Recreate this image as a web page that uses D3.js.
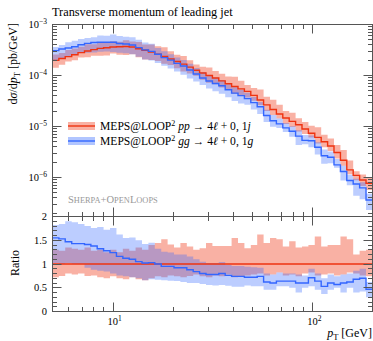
<!DOCTYPE html>
<html><head><meta charset="utf-8">
<script src="https://cdn.jsdelivr.net/npm/d3@7"></script>
<style>body{margin:0;background:#fff} svg{display:block} text{font-family:"Liberation Serif","DejaVu Serif",serif;fill:#000}</style>
</head><body>
<svg id="c" width="373" height="341"></svg>
<script>
// bin edges in pT [GeV]
const binEdges = [5,5.38,5.79,6.24,6.71,7.23,7.78,8.37,9.01,9.70,10.45,11.25,12.11,13.03,14.03,15.11,16.26,17.51,18.85,20.29,
 21.84,23.52,25.32,27.25,29.34,31.59,34.0,36.61,39.41,42.43,45.68,49.17,52.94,56.99,61.36,66.05,71.11,76.56,82.42,88.73,
 95.52,102.8,110.7,119.2,128.3,138.2,148.7,160.1,172.4,185.6,200];
// pp -> 4l + 0,1j  (dsigma/dpT, pb/GeV)
const redVals = [1.98e-4,2.16e-4,2.35e-4,2.56e-4,2.81e-4,3.03e-4,3.21e-4,3.40e-4,3.51e-4,3.63e-4,
 3.66e-4,3.70e-4,3.61e-4,3.35e-4,3.12e-4,2.88e-4,2.61e-4,2.36e-4,2.11e-4,1.88e-4,
 1.67e-4,1.46e-4,1.27e-4,1.12e-4,9.98e-5,8.91e-5,7.85e-5,6.90e-5,6.10e-5,5.46e-5,
 4.88e-5,4.08e-5,3.30e-5,2.66e-5,2.16e-5,1.76e-5,1.47e-5,1.26e-5,1.08e-5,8.93e-6,
 7.40e-6,6.11e-6,5.04e-6,4.15e-6,3.10e-6,2.18e-6,1.41e-6,1.10e-6,8.93e-7,7.71e-7];
// ratio to pp central: pp band
const redHi = [1.30,1.28,1.35,1.32,1.30,1.35,1.28,1.30,1.25,1.30,
 1.25,1.32,1.28,1.35,1.30,1.40,1.44,1.52,1.41,1.35,
 1.44,1.37,1.30,1.33,1.44,1.38,1.38,1.38,1.55,1.44,
 1.33,1.40,1.62,1.44,1.55,1.52,1.37,1.48,1.35,1.37,
 1.40,1.58,1.37,1.40,1.40,1.58,1.52,1.20,1.28,1.30];
const redLo = [0.72,0.75,0.80,0.78,0.80,0.75,0.76,0.72,0.70,0.74,
 0.70,0.68,0.72,0.68,0.66,0.70,0.74,0.72,0.76,0.74,
 0.72,0.75,0.78,0.74,0.72,0.76,0.74,0.78,0.72,0.74,
 0.76,0.78,0.80,0.76,0.78,0.82,0.76,0.78,0.74,0.80,
 0.82,0.76,0.78,0.80,0.76,0.78,0.82,0.80,0.76,0.74];
// gg -> 4l + 0,1g, ratio to pp central
const blueRatio = [1.55,1.53,1.47,1.43,1.43,1.41,1.38,1.32,1.28,1.24,
 1.16,1.12,1.10,1.05,1.02,1.03,1.00,0.95,0.95,0.92,
 0.92,0.88,0.84,0.80,0.78,0.78,0.80,0.76,0.74,0.74,
 0.72,0.72,0.74,0.62,0.60,0.64,0.64,0.64,0.60,0.60,
 0.71,0.64,0.53,0.60,0.57,0.60,0.62,0.68,0.70,0.47];
const blueHi = [1.82,1.84,1.90,1.88,1.84,1.80,1.76,1.78,1.72,1.76,
 1.62,1.55,1.56,1.50,1.42,1.45,1.32,1.26,1.24,1.20,
 1.20,1.16,1.10,1.05,1.02,1.02,1.04,0.98,0.96,0.96,
 0.94,0.93,0.92,0.80,0.78,0.82,0.80,0.80,0.78,0.76,
 0.90,0.80,0.70,0.78,0.74,0.78,0.80,0.86,0.90,0.62];
const blueLo = [1.02,1.00,1.02,1.00,1.00,0.92,0.88,0.86,0.84,0.80,
 0.76,0.74,0.72,0.70,0.66,0.68,0.67,0.66,0.65,0.64,
 0.62,0.60,0.60,0.58,0.56,0.55,0.56,0.54,0.52,0.52,
 0.55,0.53,0.53,0.46,0.46,0.53,0.53,0.50,0.40,0.50,
 0.53,0.46,0.37,0.46,0.50,0.40,0.50,0.40,0.42,0.30];
const xMajor = [10,100], xMinor = [6,7,8,9,20,30,40,50,60,70,80,90];
const yMainMajor = [1e-3,1e-4,1e-5,1e-6], yMainExp = ["−3","−4","−5","−6"];
const ratioMajor = [0,0.5,1,1.5,2], ratioLabels = ["0","0.5","1","1.5","2"];

const RED="#EE3311", BLUE="#3366FF";
const L=52.5,R=372.5,T=24.5,MB=216.5,RB=311.5;
const svg=d3.select("#c");
const x=d3.scaleLog().domain([5,200]).range([L,R]);
const yM=d3.scaleLog().domain([1.72e-7,1e-3]).range([MB,T]);
const yR=d3.scaleLinear().domain([0,2]).range([RB,MB]);

const defs=svg.append("defs");
defs.append("clipPath").attr("id","cm").append("rect").attr("x",L).attr("y",T).attr("width",R-L).attr("height",MB-T);
defs.append("clipPath").attr("id","cr").append("rect").attr("x",L).attr("y",MB).attr("width",R-L).attr("height",RB-MB);

function bandPts(lo,hi){const p=[];lo.forEach((v,i)=>{p.push({x:binEdges[i],lo:v,hi:hi[i]});p.push({x:binEdges[i+1],lo:v,hi:hi[i]});});return p;}
function linePts(v){const p=[];v.forEach((d,i)=>{p.push({x:binEdges[i],v:d});p.push({x:binEdges[i+1],v:d});});return p;}

function drawPanel(g,ys,rc,rlo,rhi,bc,blo,bhi){
  const area=d3.area().x(d=>x(d.x)).y0(d=>ys(d.lo)).y1(d=>ys(d.hi));
  const line=d3.line().x(d=>x(d.x)).y(d=>ys(d.v));
  g.append("path").attr("d",area(bandPts(rlo,rhi))).attr("fill",RED).attr("fill-opacity",0.38);
  g.append("path").attr("d",area(bandPts(blo,bhi))).attr("fill",BLUE).attr("fill-opacity",0.33);
  g.append("path").attr("d",line(linePts(rc))).attr("fill","none").attr("stroke",RED).attr("stroke-width",1.4);
  g.append("path").attr("d",line(linePts(bc))).attr("fill","none").attr("stroke",BLUE).attr("stroke-width",1.4);
}
// main panel
const gm=svg.append("g").attr("clip-path","url(#cm)");
drawPanel(gm,yM,redVals,redVals.map((v,i)=>v*redLo[i]),redVals.map((v,i)=>v*redHi[i]),
  redVals.map((v,i)=>v*blueRatio[i]),redVals.map((v,i)=>v*blueLo[i]),redVals.map((v,i)=>v*blueHi[i]));
// ratio panel
const gr=svg.append("g").attr("clip-path","url(#cr)");
drawPanel(gr,yR,redVals.map(()=>1),redLo,redHi,blueRatio,blueLo,blueHi);

// frames
const FR="#555";
svg.append("rect").attr("x",L).attr("y",T).attr("width",R-L).attr("height",MB-T).attr("fill","none").attr("stroke",FR).attr("stroke-width",1);
svg.append("rect").attr("x",L).attr("y",MB).attr("width",R-L).attr("height",RB-MB).attr("fill","none").attr("stroke",FR).attr("stroke-width",1);

const tk=svg.append("g").attr("stroke",FR).attr("stroke-width",1);
function vt(xv,y0,len){tk.append("line").attr("x1",Math.round(x(xv))+0.5).attr("x2",Math.round(x(xv))+0.5).attr("y1",y0).attr("y2",y0+len);}
function ht(yv,x0,len){tk.append("line").attr("y1",Math.round(yv)+0.5).attr("y2",Math.round(yv)+0.5).attr("x1",x0).attr("x2",x0+len);}
xMajor.forEach(v=>{vt(v,T,9);vt(v,MB,-9);vt(v,MB,9);vt(v,RB,-9);});
xMinor.forEach(v=>{vt(v,T,4.5);vt(v,MB,-4.5);vt(v,MB,4.5);vt(v,RB,-4.5);});
yMainMajor.forEach(v=>{ht(yM(v)-0.5,L,9);ht(yM(v)-0.5,R,-9);});
for(let e=-7;e<=-4;e++){for(let k=2;k<=9;k++){const v=k*Math.pow(10,e);if(v>1.72e-7&&v<1e-3){ht(yM(v)-0.5,L,4.5);ht(yM(v)-0.5,R,-4.5);}}}
for(let i=1;i<20;i++){const v=i/10; if(i%5===0){ht(yR(v)-0.5,L,9);ht(yR(v)-0.5,R,-9);}else{ht(yR(v)-0.5,L,4.5);ht(yR(v)-0.5,R,-4.5);}}

// tick labels
yMainMajor.forEach((v,i)=>{
  const t=svg.append("text").attr("x",47).attr("y",yM(v)+3.5).attr("text-anchor","end").attr("font-size",10.5);
  t.append("tspan").text("10");
  t.append("tspan").attr("dy",-4.5).attr("font-size",7.5).text(yMainExp[i]);
});
ratioMajor.forEach((v,i)=>{
  svg.append("text").attr("x",47).attr("y",yR(v)+3.5).attr("text-anchor","end").attr("font-size",10.5).text(ratioLabels[i]);
});
[[10,"1"],[100,"2"]].forEach(([v,e])=>{
  const t=svg.append("text").attr("x",x(v)+2).attr("y",325).attr("text-anchor","middle").attr("font-size",10.5);
  t.append("tspan").text("10");
  t.append("tspan").attr("dy",-4.5).attr("font-size",7.5).text(e);
});

// titles
svg.append("text").attr("x",52).attr("y",16).attr("font-size",12.3).text("Transverse momentum of leading jet");
const yl=svg.append("text").attr("transform","translate(17,23) rotate(-90)").attr("text-anchor","end").attr("font-size",12);
yl.append("tspan").text("d");yl.append("tspan").attr("font-style","italic").text("σ");
yl.append("tspan").text("/d");yl.append("tspan").attr("font-style","italic").text("p");
yl.append("tspan").attr("dy",2.5).attr("font-size",8.5).text("T");
yl.append("tspan").attr("dy",-2.5).text(" [pb/GeV]");
svg.append("text").attr("transform","translate(19,263) rotate(-90)").attr("text-anchor","middle").attr("font-size",12).text("Ratio");
const xl=svg.append("text").attr("x",372).attr("y",337).attr("text-anchor","end").attr("font-size",12);
xl.append("tspan").attr("font-style","italic").text("p");
xl.append("tspan").attr("dy",2.5).attr("font-size",8.5).text("T");
xl.append("tspan").attr("dy",-2.5).text(" [GeV]");

// legend
const legend=[{c:RED,y:126,a:"pp",b:"j"},{c:BLUE,y:141,a:"gg",b:"g"}];
legend.forEach(d=>{
  svg.append("rect").attr("x",68).attr("y",d.y-4).attr("width",27).attr("height",8).attr("fill",d.c).attr("fill-opacity",0.38);
  svg.append("line").attr("x1",68).attr("x2",95).attr("y1",d.y).attr("y2",d.y).attr("stroke",d.c).attr("stroke-width",1.4);
  const t=svg.append("text").attr("x",100).attr("y",d.y+4).attr("font-size",11.6);
  t.append("tspan").text("MEPS@LOOP");
  t.append("tspan").attr("dy",-4.5).attr("font-size",8).text("2");
  t.append("tspan").attr("dy",4.5).text(" ");
  t.append("tspan").attr("font-style","italic").text(d.a);
  t.append("tspan").text(" → 4");
  t.append("tspan").attr("font-style","italic").text("ℓ");
  t.append("tspan").text(" + 0, 1");
  t.append("tspan").attr("font-style","italic").text(d.b);
});
// Sherpa+OpenLoops in small caps
const sh=svg.append("text").attr("x",68).attr("y",203).attr("font-size",10.5).style("fill","#999");
[["S",10.5],["HERPA",8.4],["+O",10.5],["PEN",8.4],["L",10.5],["OOPS",8.4]].forEach(([s,f])=>sh.append("tspan").attr("font-size",f).text(s));
</script>
</body></html>
